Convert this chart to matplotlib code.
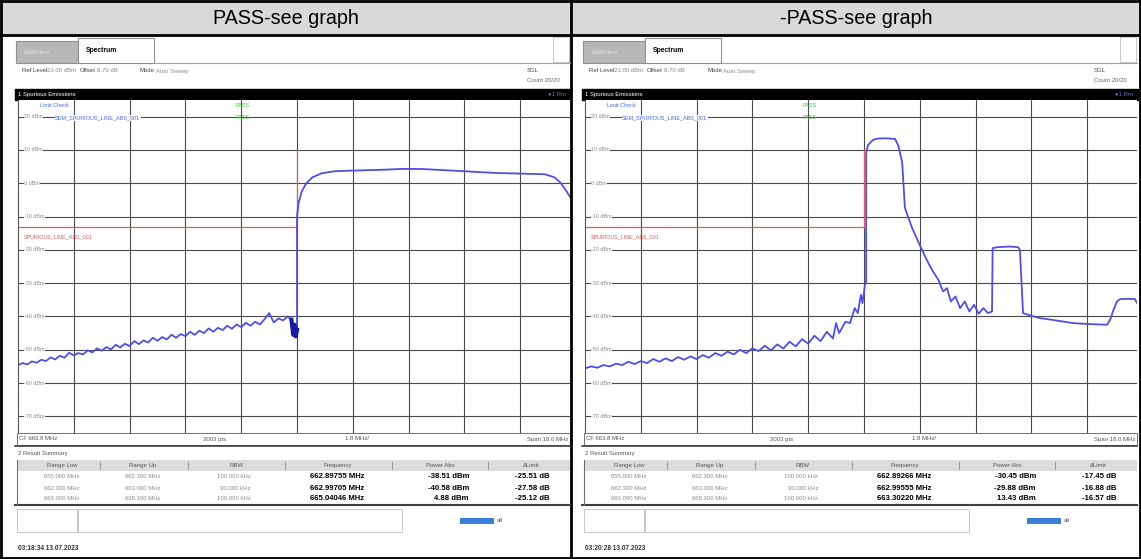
import matplotlib.pyplot as plt
from matplotlib.patches import Rectangle

plt.rcParams['font.family'] = ['Liberation Sans', 'DejaVu Sans']

W, H = 1141, 559

titles = ["PASS-see graph", "-PASS-see graph"]
timestamps = ["03:18:34 13.07.2023", "03:20:28 13.07.2023"]

# limit line (dBm) below the channel, and the channel edge (MHz)
limit_freq = [654.8, 663.8, 663.8]
limit_dbm = [-13, -13, 10]

# left screenshot trace
left_freq = [654.8, 654.95, 655.1, 655.25, 655.4, 655.55, 655.7, 655.85, 656.0, 656.15,
             656.3, 656.45, 656.6, 656.75, 656.9, 657.05, 657.2, 657.35, 657.5, 657.65,
             657.8, 657.95, 658.1, 658.25, 658.4, 658.55, 658.7, 658.85, 659.0, 659.15,
             659.3, 659.45, 659.6, 659.75, 659.9, 660.05, 660.2, 660.35, 660.5, 660.65,
             660.8, 660.95, 661.1, 661.25, 661.4, 661.55, 661.7, 661.85, 662.0, 662.15,
             662.3, 662.45, 662.6, 662.75, 662.9, 663.05, 663.2, 663.35, 663.5, 663.6,
             663.8, 663.8, 663.85, 663.95, 664.1, 664.3, 664.6, 665.0, 665.6, 666.4,
             667.2, 667.8, 668.6, 669.4, 670.2, 671.0, 671.8, 672.1, 672.3, 672.5, 672.7]
left_dbm = [-54.6, -54.0, -54.4, -53.5, -53.9, -53.0, -53.4, -52.3, -52.9, -51.8,
            -52.4, -50.9, -51.7, -51.0, -51.4, -50.2, -50.8, -49.6, -50.3, -49.2,
            -49.9, -48.5, -49.3, -48.2, -48.9, -47.4, -48.3, -47.2, -47.8, -46.4,
            -47.3, -46.2, -46.9, -45.5, -46.4, -45.3, -45.9, -44.6, -45.5, -44.3,
            -45.0, -43.6, -44.6, -43.4, -44.1, -42.8, -43.7, -42.4, -43.2, -41.9,
            -42.8, -41.6, -42.4, -40.9, -39.0, -41.8, -40.6, -41.2, -40.0, -40.8,
            -44.5, -10.0, -6.0, -2.5, 0.0, 1.8, 3.0, 3.6, 3.8, 4.0,
            4.3, 4.3, 3.9, 3.5, 3.1, 2.9, 2.7, 1.8, 0.2, -2.5, -5.5]
left_blob_freq = [663.62, 663.68, 663.72, 663.76, 663.8]
left_blob_dbm = [-41.0, -45.5, -42.5, -46.0, -44.0]

# right screenshot trace
right_freq = [654.8, 655.0, 655.2, 655.4, 655.6, 655.8, 656.0, 656.2, 656.4, 656.6,
              656.8, 657.0, 657.2, 657.4, 657.6, 657.8, 658.0, 658.2, 658.4, 658.6,
              658.8, 659.0, 659.2, 659.4, 659.6, 659.8, 660.0, 660.2, 660.4, 660.6,
              660.8, 661.0, 661.2, 661.4, 661.6, 661.8, 662.0, 662.2, 662.4, 662.6,
              662.8, 662.9, 663.0, 663.2, 663.35, 663.5, 663.6, 663.7, 663.75, 663.83,
              663.87, 663.87, 663.93, 664.09, 664.22, 664.5, 664.8, 664.9, 665.03, 665.12,
              665.35, 665.5, 665.67, 665.85, 666.03, 666.2, 666.35, 666.48, 666.6, 666.75,
              666.9, 667.05, 667.2, 667.35, 667.5, 667.65, 667.8, 667.93, 667.95, 668.1,
              668.5, 668.77, 668.83, 668.93, 669.2, 669.48, 670.0, 670.54, 671.1, 671.64,
              671.74, 671.85, 671.96, 672.06, 672.3, 672.54, 672.64]
right_dbm = [-55.6, -55.0, -55.4, -54.6, -55.0, -54.2, -54.6, -53.6, -54.3, -53.4,
             -54.0, -52.8, -53.6, -52.6, -53.4, -52.2, -53.0, -52.0, -52.8, -51.6,
             -52.4, -51.0, -51.8, -50.6, -51.4, -50.0, -51.0, -49.6, -50.4, -48.8,
             -50.2, -48.4, -49.6, -47.6, -49.0, -46.8, -48.2, -45.8, -47.4, -44.6,
             -46.6, -42.0, -45.0, -41.6, -42.0, -37.5, -39.0, -33.5, -36.0, -30.5,
             -30.0, 9.0, 11.5, 13.0, 13.4, 13.5, 13.3, 11.5, 6.4, -7.4,
             -13.4, -16.5, -20.0, -23.5, -26.6, -29.0, -32.5, -31.5, -35.5, -34.0,
             -37.5, -35.5, -38.5, -36.5, -39.2, -37.5, -39.0, -38.5, -19.5, -19.2,
             -19.0, -19.2, -20.0, -39.0, -39.8, -40.5, -41.2, -42.0, -42.3, -42.5,
             -41.0, -38.0, -35.5, -34.8, -34.7, -34.8, -36.5]

# result summary tables
range_low = ["655.000 MHz", "662.300 MHz", "663.000 MHz"]
range_up = ["662.300 MHz", "663.000 MHz", "668.300 MHz"]
rbw = ["100.000 kHz", "30.000 kHz", "100.000 kHz"]
left_peak_freq = ["662.89755 MHz", "662.99705 MHz", "665.04046 MHz"]
left_power = ["-38.51 dBm", "-40.58 dBm", "4.88 dBm"]
left_delta = ["-25.51 dB", "-27.58 dB", "-25.12 dB"]
right_peak_freq = ["662.89266 MHz", "662.99555 MHz", "663.30220 MHz"]
right_power = ["-30.45 dBm", "-29.88 dBm", "13.43 dBm"]
right_delta = ["-17.45 dB", "-16.88 dB", "-16.57 dB"]

fig = plt.figure(figsize=(W / 100, H / 100), dpi=100)
bg = fig.add_axes([0, 0, 1, 1])
bg.set_xlim(0, W)
bg.set_ylim(H, 0)
bg.axis('off')

small = 4.3
grey_txt = '#8a8a8a'

# outer table
bg.add_patch(Rectangle((0, 0), W, 35, color='#d9d9d9', zorder=0))
for y in [1, 35, 557.5]:
    bg.plot([0, W], [y, y], color='black', lw=2)
for x in [1, 571, 1139.5]:
    bg.plot([x, x], [0, H], color='black', lw=2)
bg.text(286, 18, titles[0], ha='center', va='center', fontsize=14.2)
bg.text(856, 18, titles[1], ha='center', va='center', fontsize=14.2)


def draw_panel(ox, freq, dbm, peak_freq, power, delta, stamp, blob=None):
    # tabs and header strip of the analyzer screen
    bg.add_patch(Rectangle((ox + 16, 41), 62, 22, facecolor='#b8b8b8', edgecolor='#909090', lw=0.8))
    bg.text(ox + 24, 52, "MultiView", fontsize=small, color='#e8e8e8', va='center')
    bg.add_patch(Rectangle((ox + 78, 38), 76, 25, facecolor='white', edgecolor='#909090', lw=0.8))
    bg.text(ox + 86, 50, "Spectrum", fontsize=small + 0.6, fontweight='bold', va='center')
    bg.plot([ox + 154, ox + 570], [63, 63], color='#a0a0a0', lw=0.8)
    bg.add_patch(Rectangle((ox + 553, 37), 16, 25, facecolor='white', edgecolor='#c0c0c0', lw=0.6))
    bg.text(ox + 22, 71, "Ref Level", fontsize=small, color='#444444', va='center')
    bg.text(ox + 47, 71, "23.00 dBm", fontsize=small, color=grey_txt, va='center')
    bg.text(ox + 80, 71, "Offset", fontsize=small, color='#444444', va='center')
    bg.text(ox + 97, 71, "8.70 dB", fontsize=small, color=grey_txt, va='center')
    bg.text(ox + 140, 71, "Mode", fontsize=small, color='#444444', va='center')
    bg.text(ox + 156, 71, "Auto Sweep", fontsize=small, color=grey_txt, va='center')
    bg.text(ox + 527, 71, "SGL", fontsize=small, color='#444444', va='center')
    bg.text(ox + 527, 81, "Count 20/20", fontsize=small, color='#666666', va='center')
    bg.add_patch(Rectangle((ox + 15, 89), 556, 11, color='black'))
    bg.text(ox + 18, 94.5, "1 Spurious Emissions", fontsize=small, color='white', va='center')
    bg.text(ox + 548, 94.5, "\u25cf1 Rm", fontsize=small, color='#6070c0', va='center')

    # spectrum plot
    ax = fig.add_axes([(ox + 18) / W, 1 - 433 / H, 552 / W, 333 / H])
    ax.set_xlim(654.8, 654.8 + 552 * 1.8 / 55.8)
    ax.set_ylim(-75, 25)
    ax.set_xticks([654.8 + 1.8 * k for k in range(1, 10)])
    ax.set_yticks(range(-70, 30, 10))
    ax.grid(True, color='#4a4a4a', lw=0.8)
    ax.tick_params(left=False, bottom=False, labelleft=False, labelbottom=False)
    for s in ['top', 'right', 'bottom']:
        ax.spines[s].set_visible(False)
    ax.spines['left'].set_color('#555555')
    for v in range(-70, 30, 10):
        ax.text(655.0, v, f"{v} dBm", fontsize=small - 0.4, color=grey_txt, va='center',
                bbox=dict(facecolor='white', edgecolor='none', pad=0.3))
    ax.plot(limit_freq, limit_dbm, color='#e05a5a', lw=0.9)
    ax.text(655.0, -16, "SPURIOUS_LINE_ABS_001", fontsize=small - 0.4, color='#e05a5a', va='center')
    ax.plot(freq, dbm, color='#4f4fe0', lw=1.3)
    if blob is not None:
        ax.plot(blob[0], blob[1], color='#1a1aa0', lw=3)
    ax.text(655.5, 23.2, "Limit Check", fontsize=small - 0.3, color='#4a6ad8', va='center')
    ax.text(661.8, 23.2, "PASS", fontsize=small - 0.3, color='#3cc43c', va='center')
    ax.text(656.0, 19.6, "SEM_SPURIOUS_LINE_ABS_001", fontsize=small - 0.3, color='#4a6ad8', va='center',
            bbox=dict(facecolor='white', edgecolor='none', pad=0.2))
    ax.text(661.8, 19.6, "PASS", fontsize=small - 0.3, color='#3cc43c', va='center')

    # bottom status row
    bg.add_patch(Rectangle((ox + 17, 433), 553, 12, facecolor='white', edgecolor='#707070', lw=0.7))
    bg.plot([ox + 15, ox + 570], [446, 446], color='#404040', lw=1.2)
    bg.text(ox + 19, 439, "CF 663.8 MHz", fontsize=small, color='#555555', va='center')
    bg.text(ox + 215, 439, "3003 pts", fontsize=small, color='#555555', va='center', ha='center')
    bg.text(ox + 357, 439, "1.8 MHz/", fontsize=small, color='#555555', va='center', ha='center')
    bg.text(ox + 568, 439, "Span 18.0 MHz", fontsize=small, color='#555555', va='center', ha='right')

    # result summary
    bg.text(ox + 18, 453, "2 Result Summary", fontsize=small, color='#555555', va='center')
    bg.add_patch(Rectangle((ox + 17, 460), 553, 11, facecolor='#dcdcdc', edgecolor='none'))
    heads = ["Range Low", "Range Up", "RBW", "Frequency", "Power Abs", "\u0394Limit"]
    head_x = [62, 143, 236, 338, 440, 531]
    for hx, h in zip(head_x, heads):
        bg.text(ox + hx, 465.5, h, fontsize=small, color='#555555', ha='center', va='center')
    for sx in [100, 188, 285, 392, 488]:
        bg.plot([ox + sx, ox + sx], [462, 469], color='#888888', lw=0.6)
    row_y = [477, 488, 499]
    for i in range(3):
        y = row_y[i]
        bg.text(ox + 62, y, range_low[i], fontsize=small, color=grey_txt, ha='center', va='center')
        bg.text(ox + 143, y, range_up[i], fontsize=small, color=grey_txt, ha='center', va='center')
        bg.text(ox + 251, y, rbw[i], fontsize=small, color=grey_txt, ha='right', va='center')
        bg.text(ox + 337, y, peak_freq[i], fontsize=small + 1.3, fontweight='bold', ha='center', va='center')
        bg.text(ox + 469, y, power[i], fontsize=small + 1.3, fontweight='bold', ha='right', va='center')
        bg.text(ox + 550, y, delta[i], fontsize=small + 1.3, fontweight='bold', ha='right', va='center')
    bg.plot([ox + 15, ox + 570], [505, 505], color='#404040', lw=1.5)
    bg.plot([ox + 17, ox + 17], [460, 505], color='#707070', lw=0.8)

    # lower status boxes and timestamp
    bg.add_patch(Rectangle((ox + 17, 509), 60, 23, facecolor='white', edgecolor='#c8c8c8', lw=0.7))
    bg.add_patch(Rectangle((ox + 78, 509), 324, 23, facecolor='white', edgecolor='#c8c8c8', lw=0.7))
    bg.add_patch(Rectangle((ox + 460, 518), 34, 6, facecolor='#3a7fd8', edgecolor='none'))
    bg.text(ox + 497, 521, "all", fontsize=small, color='#555555', va='center')
    bg.text(ox + 18, 548, stamp, fontsize=small + 0.4, fontweight='bold', color='#333333', va='center')


draw_panel(0, left_freq, left_dbm, left_peak_freq, left_power, left_delta, timestamps[0],
           blob=(left_blob_freq, left_blob_dbm))
draw_panel(567, right_freq, right_dbm, right_peak_freq, right_power, right_delta, timestamps[1])

fig.savefig("out.png", dpi=100)
